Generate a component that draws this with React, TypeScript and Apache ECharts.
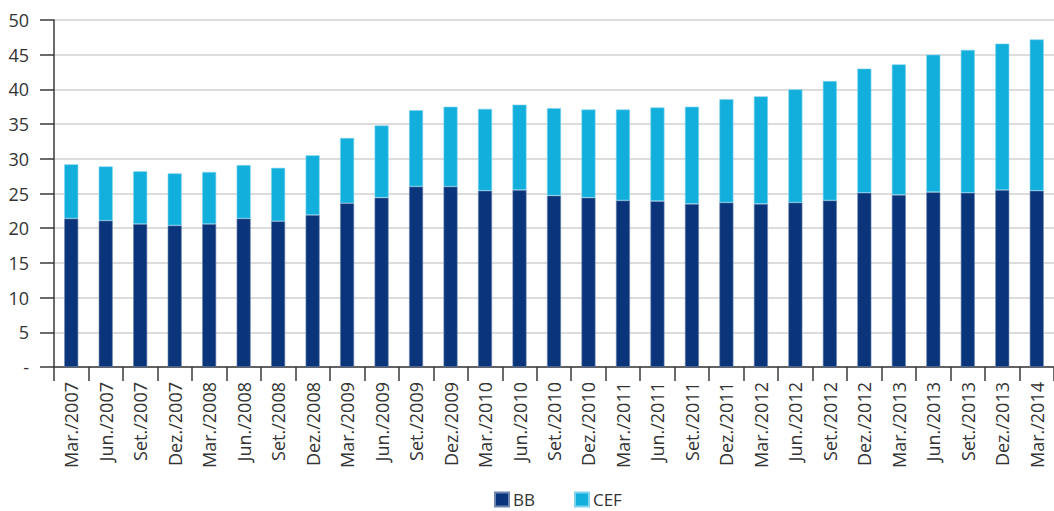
import React, { useEffect, useRef } from "react";
import * as echarts from "echarts";

const categories = [
  "Mar./2007", "Jun./2007", "Set./2007", "Dez./2007",
  "Mar./2008", "Jun./2008", "Set./2008", "Dez./2008",
  "Mar./2009", "Jun./2009", "Set./2009", "Dez./2009",
  "Mar./2010", "Jun./2010", "Set./2010", "Dez./2010",
  "Mar./2011", "Jun./2011", "Set./2011", "Dez./2011",
  "Mar./2012", "Jun./2012", "Set./2012", "Dez./2012",
  "Mar./2013", "Jun./2013", "Set./2013", "Dez./2013",
  "Mar./2014",
];

const bbValues = [
  21.4, 21.1, 20.6, 20.4, 20.6, 21.4, 21.0, 21.9,
  23.6, 24.4, 26.0, 26.0, 25.4, 25.5, 24.7, 24.4,
  24.0, 23.9, 23.5, 23.7, 23.5, 23.7, 24.0, 25.1,
  24.8, 25.2, 25.1, 25.5, 25.4,
];

const cefValues = [
  7.8, 7.8, 7.6, 7.5, 7.5, 7.7, 7.7, 8.6,
  9.4, 10.4, 11.0, 11.5, 11.8, 12.3, 12.6, 12.7,
  13.1, 13.5, 14.0, 14.9, 15.5, 16.3, 17.2, 17.9,
  18.8, 19.8, 20.6, 21.1, 21.8,
];

const seriesNames = ["BB", "CEF"];
const FONT = "'Open Sans', 'Noto Sans', sans-serif";

export default function App() {
  const ref = useRef<HTMLDivElement>(null);

  useEffect(() => {
    if (!ref.current) return;
    const chart = echarts.init(ref.current, null, { renderer: "svg" });
    chart.setOption({
      animation: false,
      backgroundColor: "#ffffff",
      textStyle: { fontFamily: FONT },
      grid: { left: 54, right: -6, top: 20, bottom: 144, containLabel: false },
      legend: {
        data: seriesNames,
        left: 494,
        top: 491,
        padding: 0,
        icon: "rect",
        itemWidth: 14,
        itemHeight: 14,
        itemGap: 39,
        textStyle: { fontFamily: FONT, fontSize: 17, lineHeight: 16, color: "#333333", padding: [0, 0, 0, -1] },
      },
      xAxis: {
        type: "category",
        data: categories,
        axisLine: { show: true, lineStyle: { color: "#3a3a3a", width: 1.5 } },
        axisTick: { show: true, alignWithLabel: false, length: 14, lineStyle: { color: "#3a3a3a", width: 1.5 } },
        axisLabel: {
          rotate: 90,
          interval: 0,
          margin: 15,
          fontFamily: FONT,
          fontSize: 18,
          color: "#333333",
        },
        splitLine: { show: false },
      },
      yAxis: {
        type: "value",
        min: 0,
        max: 50,
        interval: 5,
        axisLine: { show: true, lineStyle: { color: "#3a3a3a", width: 1.5 } },
        axisTick: { show: true, length: 14, lineStyle: { color: "#3a3a3a", width: 1.5 } },
        axisLabel: {
          margin: 25,
          fontFamily: FONT,
          fontSize: 18,
          color: "#333333",
          formatter: (v: number) => (v === 0 ? "-" : String(v)),
        },
        splitLine: { show: true, lineStyle: { color: "#d0d0d0", width: 1.5 } },
      },
      series: [
        {
          name: seriesNames[0],
          type: "bar",
          stack: "total",
          data: bbValues,
          barWidth: 14,
          itemStyle: { color: "#0b357b", borderColor: "#6f86b0", borderWidth: 0.6 },
        },
        {
          name: seriesNames[1],
          type: "bar",
          stack: "total",
          data: cefValues,
          barWidth: 14,
          itemStyle: { color: "#12afdd", borderColor: "#7fd3ee", borderWidth: 0.6 },
        },
      ],
    });
    return () => chart.dispose();
  }, []);

  return (
    <div
      ref={ref}
      style={{ position: "fixed", left: 0, top: 0, width: 1054, height: 511 }}
    />
  );
}
